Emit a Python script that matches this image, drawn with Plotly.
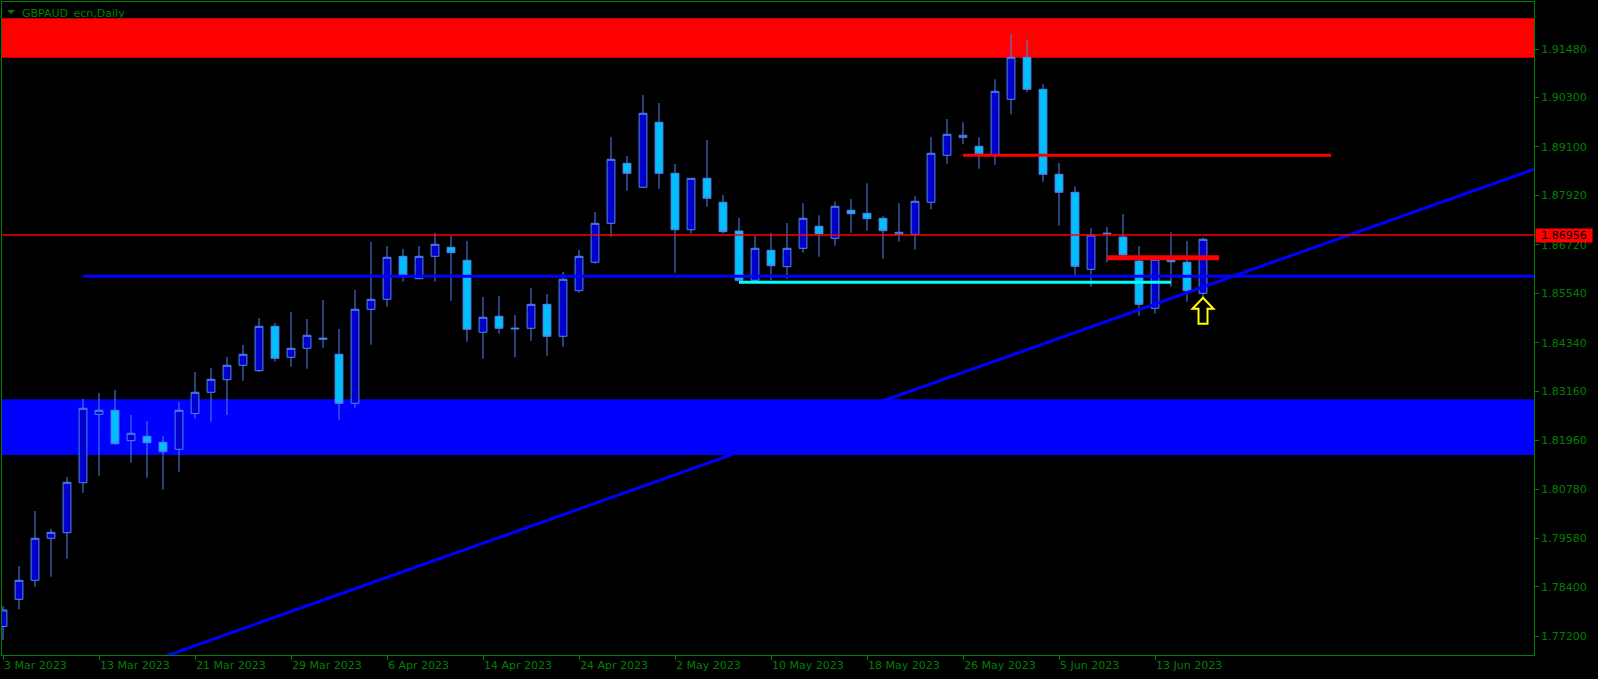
import plotly.graph_objects as go

# ---------------- data ----------------
symbol_title = "GBPAUD_ecn,Daily"

bar_index = list(range(76))  # daily bars, 3 Mar 2023 .. 16 Jun 2023 (weekdays)

opens = [1.77438, 1.78099, 1.78561, 1.79583, 1.79719, 1.80934, 1.82598, 1.82695, 1.81956, 1.82063,
         1.81917, 1.81747, 1.82617, 1.83133, 1.83439, 1.83789, 1.83658, 1.84737, 1.83984, 1.84202,
         1.84421, 1.84057, 1.82865, 1.85151, 1.85394, 1.86439, 1.85895, 1.86439, 1.86658, 1.86342,
         1.84592, 1.84981, 1.84672, 1.84689, 1.85272, 1.84494, 1.85603, 1.86294, 1.87242, 1.88701,
         1.88117, 1.89698, 1.88458, 1.87086, 1.88336, 1.87753, 1.87055, 1.85856, 1.86585, 1.86187,
         1.86634, 1.87169, 1.86877, 1.87558, 1.87485, 1.87363, 1.86974, 1.86974, 1.87753, 1.88895,
         1.89333, 1.89114, 1.88903, 1.90257, 1.91278, 1.90500, 1.88433, 1.87996, 1.86123, 1.86982,
         1.86909, 1.86325, 1.85175, 1.86374, 1.86294, 1.85540]
highs = [1.77937, 1.78909, 1.80246, 1.79809, 1.81073, 1.82970, 1.83116, 1.83189, 1.82581, 1.82435,
         1.82070, 1.82897, 1.83626, 1.83724, 1.83991, 1.84283, 1.84939, 1.84818, 1.85085, 1.84915,
         1.85377, 1.84672, 1.85620, 1.86787, 1.86690, 1.86617, 1.86690, 1.87006, 1.86940, 1.86812,
         1.85450, 1.85474, 1.85012, 1.85669, 1.85523, 1.86058, 1.86593, 1.87517, 1.89340, 1.88878,
         1.90362, 1.90167, 1.88684, 1.88343, 1.89267, 1.87930, 1.87371, 1.86940, 1.87006, 1.87249,
         1.87728, 1.87436, 1.87777, 1.87833, 1.88214, 1.87412, 1.87728, 1.87898, 1.89340, 1.89778,
         1.89698, 1.89333, 1.90743, 1.91837, 1.91699, 1.90622, 1.88708, 1.88142, 1.87120, 1.87152,
         1.87468, 1.86690, 1.86447, 1.87023, 1.86812, 1.86892]
lows = [1.77110, 1.77856, 1.78406, 1.78649, 1.79087, 1.80691, 1.81105, 1.81859, 1.81421, 1.81056,
        1.80764, 1.81202, 1.82491, 1.82418, 1.82581, 1.83415, 1.83626, 1.83877, 1.83755, 1.83706,
        1.84217, 1.82466, 1.82758, 1.84290, 1.85214, 1.85822, 1.85880, 1.85822, 1.85360, 1.84363,
        1.83950, 1.84557, 1.83984, 1.84387, 1.84023, 1.84241, 1.85554, 1.86260, 1.86916, 1.88035,
        1.88107, 1.88083, 1.86041, 1.86989, 1.87646, 1.86989, 1.85846, 1.85839, 1.85856, 1.85888,
        1.86527, 1.86430, 1.86697, 1.87013, 1.87062, 1.86381, 1.86795, 1.86600, 1.87582, 1.88691,
        1.89163, 1.88569, 1.88667, 1.89892, 1.90427, 1.88253, 1.87184, 1.85985, 1.85700, 1.86294,
        1.86405, 1.84995, 1.85044, 1.85700, 1.85336, 1.85433]
closes = [1.77839, 1.78561, 1.79583, 1.79728, 1.80944, 1.82744, 1.82695, 1.81883, 1.82136, 1.81907,
          1.81688, 1.82695, 1.83133, 1.83449, 1.83789, 1.84057, 1.84737, 1.83959, 1.84202, 1.84519,
          1.84446, 1.82865, 1.85151, 1.85394, 1.86415, 1.85985, 1.86439, 1.86731, 1.86527, 1.84664,
          1.84956, 1.84689, 1.84689, 1.85272, 1.84494, 1.85880, 1.86439, 1.87242, 1.88798, 1.88458,
          1.89917, 1.88458, 1.87086, 1.88336, 1.87850, 1.87038, 1.85856, 1.86634, 1.86211, 1.86634,
          1.87363, 1.86982, 1.87655, 1.87475, 1.87354, 1.87062, 1.87023, 1.87777, 1.88944, 1.89406,
          1.89382, 1.88934, 1.90451, 1.91278, 1.90500, 1.88433, 1.87996, 1.86196, 1.86957, 1.86999,
          1.86471, 1.85272, 1.86366, 1.86308, 1.85603, 1.86853]

tick_index = [0, 6, 12, 18, 24, 30, 36, 42, 48, 54, 60, 66, 72]
tick_labels = ["3 Mar 2023", "13 Mar 2023", "21 Mar 2023", "29 Mar 2023", "6 Apr 2023",
               "14 Apr 2023", "24 Apr 2023", "2 May 2023", "10 May 2023", "18 May 2023",
               "26 May 2023", "5 Jun 2023", "13 Jun 2023"]
price_ticks = [1.91480, 1.90300, 1.89100, 1.87920, 1.86720, 1.85540, 1.84340,
               1.83160, 1.81960, 1.80780, 1.79580, 1.78400, 1.77200]

last_price = 1.86956

# zones (price bands)
supply_zone = [1.91268, 1.92226]
demand_zone = [1.81608, 1.82962]

# horizontal level objects: [start bar, end bar, price]
red_level_1 = [60, 83, 1.88895]
red_level_2 = [69, 76, 1.86405]
cyan_level = [46, 73, 1.85807]
blue_level = [5, 95.7, 1.85953]

# trend line anchors (bar, price)
trend_bars = [13, 75]
trend_prices = [1.77110, 1.85693]

# buy signal arrow
signal_bar = 75
signal_price = lows[75]

# ---------------- style ----------------
GREEN = "#008000"
OUTLINE = "#4F86F0"
BULL = "#0000CD"
BEAR = "#00BFFF"
FONT = "DejaVu Sans"

x_range = [-0.0625, 95.6875]
y_range = [1.76745, 1.92623]

fig = go.Figure()

fig.add_trace(go.Candlestick(
    x=bar_index, open=opens, high=highs, low=lows, close=closes,
    increasing=dict(line=dict(color=OUTLINE, width=1), fillcolor=BULL),
    decreasing=dict(line=dict(color=OUTLINE, width=1), fillcolor=BEAR),
    whiskerwidth=0, showlegend=False, hoverinfo="skip",
))

# trend line extended as a ray across the chart
slope = (trend_prices[1] - trend_prices[0]) / (trend_bars[1] - trend_bars[0])
tx = [x_range[0], x_range[1]]
ty = [trend_prices[0] + slope * (v - trend_bars[0]) for v in tx]
fig.add_trace(go.Scatter(x=tx, y=ty, mode="lines", line=dict(color="#0000FF", width=3),
                         showlegend=False, hoverinfo="skip"))

for lvl, col, w in [(blue_level, "#0000FF", 3), (cyan_level, "#00FFFF", 3),
                    (red_level_1, "#FF0000", 3), (red_level_2, "#FF0000", 5)]:
    fig.add_trace(go.Scatter(x=[lvl[0], lvl[1]], y=[lvl[2], lvl[2]], mode="lines",
                             line=dict(color=col, width=w), showlegend=False, hoverinfo="skip"))

shapes = [
    dict(type="rect", xref="paper", x0=0, x1=1, yref="y", y0=supply_zone[0], y1=supply_zone[1],
         fillcolor="#FF0000", line=dict(width=0), layer="below"),
    dict(type="rect", xref="paper", x0=0, x1=1, yref="y", y0=demand_zone[0], y1=demand_zone[1],
         fillcolor="#0000FF", line=dict(width=0), layer="below"),
    dict(type="line", xref="paper", x0=0, x1=1, yref="y", y0=last_price, y1=last_price,
         line=dict(color="#FF0000", width=1.5), layer="above"),
    dict(type="path", xref="x", yref="y", xsizemode="pixel", ysizemode="pixel",
         xanchor=signal_bar, yanchor=signal_price,
         path="M 0,0 L 10.5,-11 L 4.5,-11 L 4.5,-26 L -4.5,-26 L -4.5,-11 L -10.5,-11 Z",
         fillcolor="#000000", line=dict(color="#FFFF00", width=2), layer="above"),
    dict(type="path", xref="paper", yref="paper", xsizemode="pixel", ysizemode="pixel",
         xanchor=0, yanchor=1, path="M 5,-8 L 13,-8 L 9,-12 Z",
         fillcolor=GREEN, line=dict(width=0)),
]

annotations = [
    dict(xref="paper", yref="paper", x=0, y=1, xanchor="left", yanchor="top",
         xshift=18, yshift=-3, text=symbol_title, showarrow=False,
         font=dict(family=FONT, size=11, color=GREEN)),
    dict(xref="paper", x=1, xanchor="left", xshift=1, yref="y", y=last_price, yanchor="middle",
         text=f"{last_price:.5f}", showarrow=False, bgcolor="#FF0000", borderpad=0,
         width=56, height=13, font=dict(family=FONT, size=11, color="#000000")),
]

fig.update_layout(
    width=1598, height=679,
    margin=dict(l=2, r=64, t=2, b=24, pad=0),
    paper_bgcolor="#000000", plot_bgcolor="#000000",
    shapes=shapes, annotations=annotations,
    hovermode=False, showlegend=False,
    font=dict(family=FONT, size=11, color=GREEN),
    xaxis=dict(range=x_range, showgrid=False, zeroline=False, rangeslider=dict(visible=False),
               tickmode="array", tickvals=tick_index, ticktext=tick_labels,
               ticks="outside", ticklen=4, tickcolor=GREEN, ticklabelposition="outside right",
               showline=True, linecolor=GREEN, linewidth=1, mirror=True,
               tickfont=dict(family=FONT, size=11, color=GREEN)),
    yaxis=dict(range=y_range, side="right", showgrid=False, zeroline=False,
               tickmode="array", tickvals=price_ticks, ticktext=[f"{v:.5f}" for v in price_ticks],
               ticks="outside", ticklen=4, tickcolor=GREEN,
               showline=True, linecolor=GREEN, linewidth=1, mirror=True,
               tickfont=dict(family=FONT, size=11, color=GREEN)),
)

fig.write_html("out.html", config={"displayModeBar": False},
               post_script="document.body.style.margin='0';document.body.style.background='#000';")
